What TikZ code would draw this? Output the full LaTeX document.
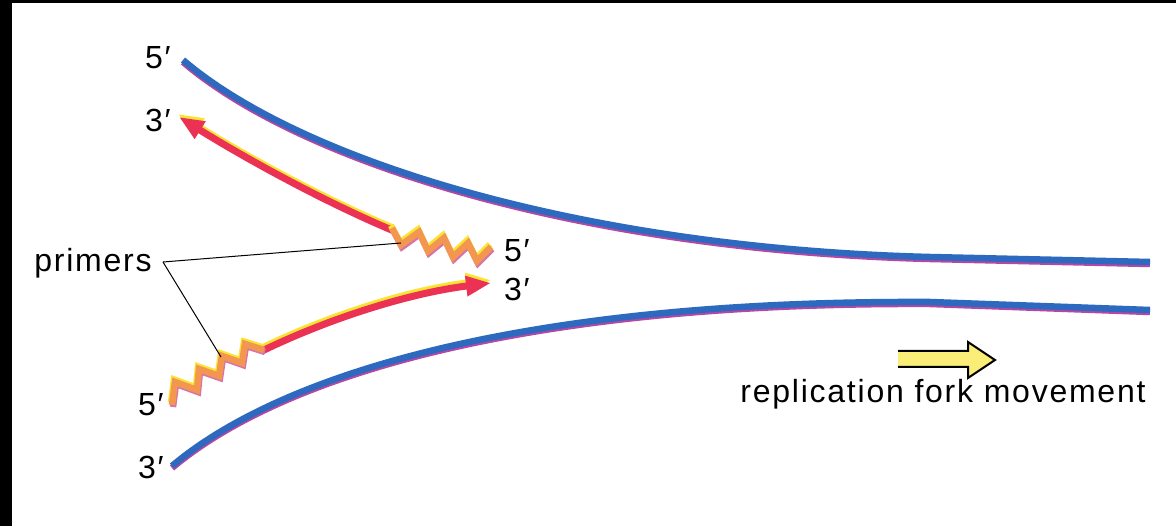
\documentclass[tikz,border=0pt]{standalone}
\usepackage{fontspec}
\newfontfamily\labfont{Liberation Sans}[LetterSpace=5.5]
\usetikzlibrary{arrows.meta}
\definecolor{strandblue}{RGB}{45,105,190}
\definecolor{strandshadow}{RGB}{180,70,165}
\definecolor{newred}{RGB}{235,50,85}
\definecolor{hilite}{RGB}{250,228,50}
\definecolor{primerorange}{RGB}{242,150,80}
\definecolor{primershadow}{RGB}{215,115,170}
\definecolor{movearrow}{RGB}{250,238,120}
\def\topstrand{(183,60) .. controls (300,160) and (580,248) .. (930,257) -- (1150,262)}
\def\botstrand{(172,466) .. controls (280,375) and (520,300) .. (930,302) -- (1150,310)}
\def\redtop{(394,231) .. controls (320,200) and (240,155) .. (179,117)}
\def\redbot{(262,351) .. controls (330,318) and (410,293) .. (491,283)}
\def\zigtop{(392,228) -- (401,245) -- (419,232) -- (428,251) -- (444,238) -- (453,257) -- (468,243) -- (477,261) -- (491,247)}
\def\zigbot{(172,405) -- (175,382) -- (197,390) -- (199,369) -- (219,376) -- (222,356) -- (242,363) -- (245,344) -- (264,350)}
\begin{document}
\begin{tikzpicture}[x=1pt,y=-1pt,
  lbl/.style={font=\labfont\fontsize{32}{38}\selectfont, inner sep=0pt},
  strandsh/.style={line width=6.5pt, strandshadow, line cap=butt},
  strandmain/.style={line width=6.5pt, strandblue, line cap=butt},
  redtip/.style={-{Triangle[length=25pt,width=19pt]}},
  newstrand/.style={line width=7pt, newred, redtip},
  newhl/.style={line width=7pt, hilite, redtip},
  primer/.style={line width=6.5pt, primerorange, line join=miter},
  primerhl/.style={line width=6.5pt, hilite, line join=miter},
  primersh/.style={line width=6.5pt, primershadow, line join=miter},
  leader/.style={line width=1pt, black}]
\useasboundingbox (0,0) rectangle (1176,526);
\fill[white] (0,0) rectangle (1176,526);
\fill[black] (0,0) rectangle (12,526);
\fill[black] (0,0) rectangle (1176,3);
% parental strands
\draw[strandsh, shift={(0,2)}] \topstrand;
\draw[strandmain] \topstrand;
\draw[strandsh, shift={(0,2)}] \botstrand;
\draw[strandmain] \botstrand;
% new strands
\draw[newhl, shift={(-1,-3)}] \redtop;
\draw[newstrand] \redtop;
\draw[newhl, shift={(0,-3)}] \redbot;
\draw[newstrand] \redbot;
% primers
\draw[primersh, shift={(1,2)}] \zigtop;
\draw[primerhl, shift={(-1,-2.5)}] \zigtop;
\draw[primer] \zigtop;
\draw[primersh, shift={(1,2)}] \zigbot;
\draw[primerhl, shift={(-1,-2.5)}] \zigbot;
\draw[primer] \zigbot;
% labels
\node[lbl] (l5a) at (158,58) {5′};
\node[lbl] (l3a) at (158,120) {3′};
\node[lbl] (l5b) at (517,251) {5′};
\node[lbl] (l3b) at (517,289) {3′};
\node[lbl] (l5c) at (151,405) {5′};
\node[lbl] (l3c) at (151,467) {3′};
\node[lbl] (primers) at (93,263) {primers};
\node[lbl, anchor=base] (fork) at (943,403) {replication fork movement};
% leaders
\coordinate (pv) at (163,262);
\coordinate (pz1) at (401,243);
\coordinate (pz2) at (221,357);
\draw[leader] (pv) -- (pz1);
\draw[leader] (pv) -- (pz2);
% movement arrow
\fill[movearrow] (898,351) -- (968,351) -- (968,342) -- (995,360) -- (968,378) -- (968,367) -- (898,367) -- cycle;
\draw[line width=2pt, line join=miter] (898,351) -- (968,351) -- (968,342) -- (995,360) -- (968,378) -- (968,367) -- (898,367);
\end{tikzpicture}
\end{document}
